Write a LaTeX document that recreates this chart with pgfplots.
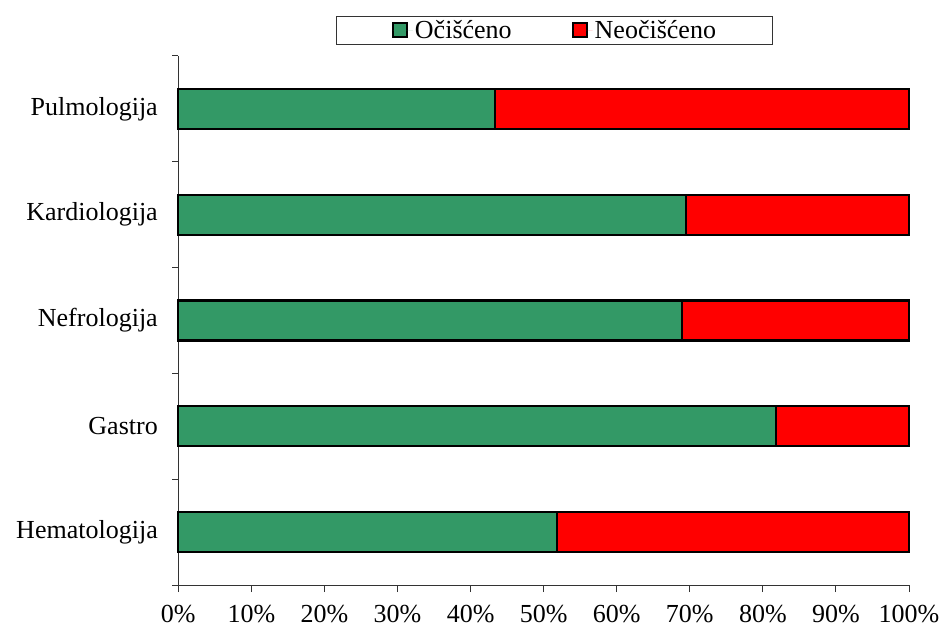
\documentclass[border=0pt]{standalone}
\usepackage{pgfplots}
\pgfplotsset{compat=1.18}
\usepackage{fontspec}
\setmainfont{Liberation Serif}
\definecolor{cgreen}{RGB}{51,153,102}
\definecolor{cred}{RGB}{255,0,0}
\begin{document}
\begin{tikzpicture}
\begin{axis}[
  scale only axis,
  width=730.7pt, height=529pt,
  xbar stacked,
  bar width=40pt,
  clip=false,
  xmin=0, xmax=100,
  ymin=-0.5, ymax=4.5,
  axis lines*=left,
  axis line style={black!80, line width=1pt},
  xtick={0,10,...,100},
  xticklabel={\pgfmathprintnumber{\tick}\%},
  ytick={0,1,2,3,4},
  yticklabels={Hematologija,Gastro,Nefrologija,Kardiologija,Pulmologija},
  minor ytick={-0.5,0.5,1.5,2.5,3.5,4.5},
  tick align=outside,
  major tick length=7pt,
  minor tick length=6pt,
  major y tick style={draw=none},
  minor y tick style={black!80, line width=1pt},
  major x tick style={black!80, line width=1pt},
  tick label style={font=\fontsize{26}{31}\selectfont},
  xticklabel style={yshift=-10pt},
  yticklabel style={xshift=-10pt},
  /pgf/number format/assume math mode=true,
  every axis plot/.append style={draw=black, line width=2.3pt},
  legend style={at={(0.5155,1)}, anchor=south, yshift=11pt, legend columns=2,
    draw=black!80, line width=1pt, font=\fontsize{26}{31}\selectfont,
    inner xsep=55pt, inner ysep=2pt,
    /tikz/every even column/.append style={column sep=58pt}},
  legend image code/.code={\draw[#1, draw=black, line width=2pt] (0pt,-6pt) rectangle (14pt,8pt); \path[draw=none] (0pt,0pt) -- (20pt,0pt);},
]
\addplot[fill=cgreen] coordinates {(51.8,0) (81.8,1) (68.9,2) (69.5,3) (43.3,4)};
\addplot[fill=cred] coordinates {(48.2,0) (18.2,1) (31.1,2) (30.5,3) (56.7,4)};
\legend{Očišćeno, Neočišćeno}
\end{axis}
\path ([shift={(-178.3pt,-42pt)}]current axis.south west) rectangle ([shift={(35pt,56pt)}]current axis.north east);
\end{tikzpicture}
\end{document}
